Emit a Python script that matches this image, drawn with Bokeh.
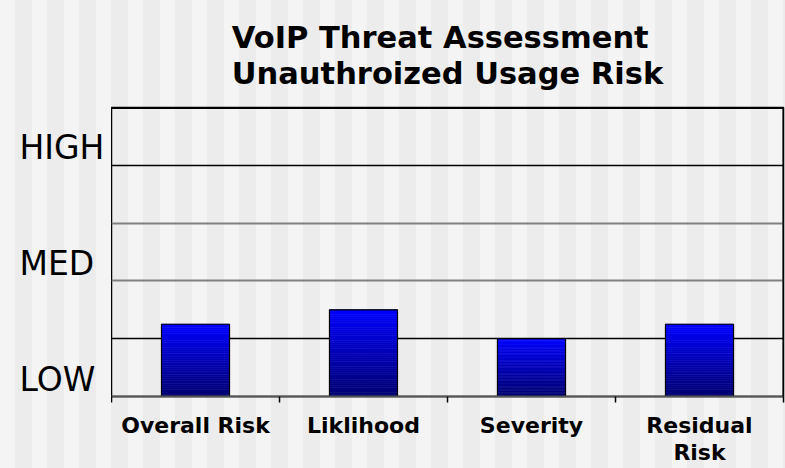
from bokeh.plotting import figure
from bokeh.layouts import row
from bokeh.models import (Range1d, LinearAxis, FixedTicker, Grid, Span, ColumnDataSource)
from bokeh.core.properties import value
from bokeh.embed import file_html
from bokeh.resources import INLINE

# ---- data ----
categories = ["Overall Risk", "Liklihood", "Severity", "Residual Risk"]
category_labels = ["Overall Risk", "Liklihood", "Severity", "Residual\nRisk"]
risk_values = [1.25, 1.5, 1.0, 1.25]
y_level_labels = ["LOW", "MED", "HIGH"]
y_level_positions = [0.3, 2.3, 4.3]
y_grid_dark = [1, 4]
y_grid_light = [2, 3]
y_max = 5
title_text = "VoIP Threat Assessment\nUnauthroized Usage Risk"

n = len(categories)
centers = [i + 0.5 for i in range(n)]
bounds = list(range(n + 1))

LEFT_W = 111
TOP = 107
BOTTOM = 72
H = 468

# ---- left panel holding the level labels ----
pl = figure(width=LEFT_W, height=H, output_backend="svg", toolbar_location=None,
            x_range=Range1d(0, LEFT_W), y_range=Range1d(0, y_max),
            x_axis_location=None, y_axis_location=None,
            min_border_left=0, min_border_right=0, min_border_top=TOP, min_border_bottom=BOTTOM)
pl.background_fill_color = None
pl.border_fill_color = None
pl.outline_line_color = None
pl.xgrid.visible = False
pl.ygrid.visible = False
pl.styles = {"background": "repeating-linear-gradient(90deg, #f4f4f4 0px, #f4f4f4 15px, "
                           "#ececec 15px, #ececec 32px)"}
pl.text(x=[19] * len(y_level_labels), y=y_level_positions, text=y_level_labels,
        text_align="left", text_baseline="middle", text_font=value("DejaVu Sans"),
        text_font_size="33px", text_color="black")

# ---- main chart ----
p = figure(width=785 - LEFT_W, height=H, output_backend="svg", toolbar_location=None,
           x_range=Range1d(0, n), y_range=Range1d(0, y_max),
           x_axis_location=None, y_axis_location=None,
           min_border_left=0, min_border_right=2, min_border_top=TOP, min_border_bottom=BOTTOM)

p.background_fill_color = None
p.border_fill_color = None
p.styles = {"background": "repeating-linear-gradient(90deg, #ececec 0px, #ececec 17px, "
                          "#f4f4f4 17px, #f4f4f4 32px)"}

p.outline_line_color = "black"
p.outline_line_width = 1.5

# title
p.title.text = title_text
p.title.align = "center"
p.title.vertical_align = "top"
p.title.text_color = "black"
p.title.text_font = "DejaVu Sans"
p.title.text_font_style = "bold"
p.title.text_font_size = "30.5px"
p.title.text_line_height = 1.03
p.title.standoff = 30

# grids
p.xgrid.visible = False
p.ygrid.visible = False
p.add_layout(Grid(dimension=1, ticker=FixedTicker(ticks=y_grid_dark),
                  grid_line_color="black", grid_line_width=1.5))
p.add_layout(Grid(dimension=1, ticker=FixedTicker(ticks=y_grid_light),
                  grid_line_color="#808080", grid_line_width=2))

# bars with vertical gradient
N = 40
top_b = 255
bot_b = 112
xs, bots, tops, cols = [], [], [], []
for c, v in zip(centers, risk_values):
    for k in range(N):
        f = (k + 0.5) / N
        b = int(bot_b + (top_b - bot_b) * f)
        xs.append(c)
        bots.append(v * k / N)
        tops.append(v * (k + 1) / N)
        cols.append("#0000%02x" % b)
grad = ColumnDataSource(dict(x=xs, bottom=bots, top=tops, color=cols))
p.vbar(x="x", bottom="bottom", top="top", width=0.405, source=grad,
       fill_color="color", line_color="color", line_width=0.6)
p.vbar(x=centers, top=risk_values, width=0.405, fill_color=None,
       line_color="black", line_width=1.2)

# frame top/right heavy borders
p.add_layout(Span(location=y_max, dimension="width", line_color="black", line_width=3))
p.add_layout(Span(location=n, dimension="height", line_color="black", line_width=2))

# x axis: tick marks at category boundaries
tick_axis = LinearAxis(ticker=FixedTicker(ticks=bounds),
                       major_label_overrides={b: "" for b in bounds},
                       major_label_text_font_size="0px", major_label_standoff=0,
                       axis_line_color="#555555", axis_line_width=2,
                       major_tick_line_color="black", major_tick_line_width=1.5,
                       major_tick_in=0, major_tick_out=6,
                       minor_tick_line_color=None)
p.add_layout(tick_axis, "below")

cat_axis = LinearAxis(ticker=FixedTicker(ticks=centers),
                      major_label_overrides={c: lab for c, lab in zip(centers, category_labels)},
                      axis_line_color=None, major_tick_line_color=None,
                      minor_tick_line_color=None,
                      major_label_text_font="DejaVu Sans",
                      major_label_text_font_style="bold",
                      major_label_text_font_size="22px",
                      major_label_text_color="black",
                      major_label_text_line_height=1.1,
                      major_label_standoff=4)
p.add_layout(cat_axis, "below")

layout = row(pl, p, spacing=0)
open("out.html", "w").write(file_html(layout, INLINE))
